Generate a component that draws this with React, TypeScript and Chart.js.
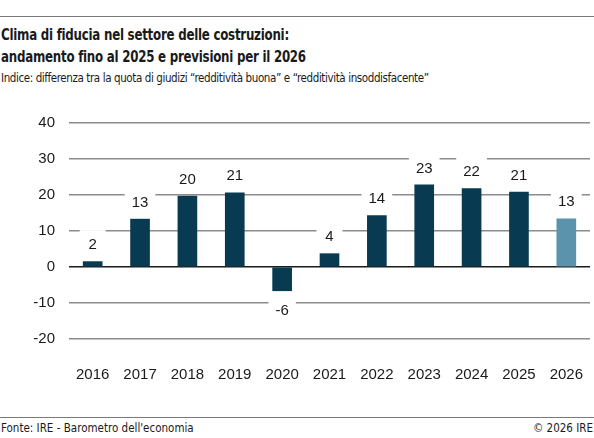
import React, { useEffect, useRef } from 'react';
import { Chart, registerables } from 'chart.js';

Chart.register(...registerables);

const anni = ['2016', '2017', '2018', '2019', '2020', '2021', '2022', '2023', '2024', '2025', '2026'];
const valori = [1.5, 13.3, 19.7, 20.6, -6.6, 3.7, 14.3, 22.8, 21.8, 20.8, 13.4];
const etichette = ['2', '13', '20', '21', '-6', '4', '14', '23', '22', '21', '13'];
const annoPrevisione = '2026';
const yMin = -20;
const yMax = 40;
const yStep = 10;

const BLU = '#083a52';
const AZZURRO = '#5b92ac';
const NARROW = '"Liberation Sans Narrow", "DejaVu Sans Condensed", "Roboto", sans-serif';
const SANS = '"Liberation Sans", Arial, sans-serif';

// etichette valore sopra/sotto le barre, con riquadro bianco che interrompe la griglia
const etichettePlugin = {
  id: 'etichetteValori',
  afterDatasetsDraw(chart: any) {
    const ctx = chart.ctx;
    const meta = chart.getDatasetMeta(0);
    ctx.save();
    ctx.font = `15px ${SANS}`;
    ctx.textAlign = 'center';
    ctx.textBaseline = 'middle';
    meta.data.forEach((bar: any, i: number) => {
      const testo = etichette[i];
      const v = valori[i];
      const y = v >= 0 ? bar.y - 17.5 : bar.y + 19;
      const w = Math.max(ctx.measureText(testo).width + 14, 26);
      ctx.fillStyle = '#fff';
      ctx.fillRect(bar.x - w / 2, y - 14, w, 28);
      ctx.fillStyle = '#1a1a1a';
      ctx.fillText(testo, bar.x, y + 1);
    });
    ctx.restore();
  },
};

const GraficoFiducia: React.FC = () => {
  const chartRef = useRef<HTMLCanvasElement>(null);

  useEffect(() => {
    if (!chartRef.current) return;
    const chart = new Chart(chartRef.current, {
      type: 'bar',
      data: {
        labels: anni,
        datasets: [
          {
            data: valori,
            backgroundColor: anni.map((a) => (a === annoPrevisione ? AZZURRO : BLU)),
            barThickness: 19,
          },
        ],
      },
      options: {
        animation: false,
        responsive: false,
        layout: { padding: { top: 23, right: 4, left: 0, bottom: 0 } },
        plugins: { legend: { display: false }, tooltip: { enabled: false } },
        scales: {
          x: {
            grid: { display: false, drawTicks: true, tickLength: 24 },
            border: { display: false },
            ticks: { color: '#1a1a1a', font: { size: 15, family: SANS }, padding: 3, maxRotation: 0 },
            afterFit: (axis: any) => {
              axis.height = 61;
            },
          },
          y: {
            min: yMin,
            max: yMax,
            border: { display: false },
            grid: {
              drawTicks: false,
              color: (c: any) => (c.tick && c.tick.value === 0 ? '#1a1a1a' : '#8c8c8c'),
              lineWidth: 1.5,
            },
            ticks: { stepSize: yStep, color: '#1a1a1a', font: { size: 15, family: SANS }, padding: 14 },
            afterFit: (axis: any) => {
              axis.width = 69;
            },
          },
        },
      },
      plugins: [etichettePlugin],
    });
    return () => {
      chart.destroy();
    };
  }, []);

  return <canvas ref={chartRef} width={594} height={300} style={{ position: 'absolute', left: 0, top: 100 }} />;
};

export default function App() {
  useEffect(() => {
    document.body.style.margin = '0';
  }, []);

  return (
    <div style={{ position: 'relative', width: 594, height: 438, background: '#fff', color: '#1a1a1a', fontFamily: NARROW, overflow: 'hidden' }}>
      <div style={{ position: 'absolute', left: 0, right: 0, top: 16, borderTop: '1.5px solid #7a7a7a' }} />
      <div
        style={{
          position: 'absolute',
          left: 1,
          top: 24,
          fontSize: 15.5,
          letterSpacing: '-0.3px',
          fontWeight: 'bold',
          lineHeight: '22px',
          whiteSpace: 'nowrap',
          transform: 'scaleX(0.85)',
          transformOrigin: 'left top',
        }}
      >
        Clima di fiducia nel settore delle costruzioni:
        <br />
        andamento fino al 2025 e previsioni per il 2026
      </div>
      <div style={{ position: 'absolute', left: 1, top: 70, fontSize: 11.5, letterSpacing: '-0.4px', lineHeight: '16px', whiteSpace: 'nowrap' }}>
        Indice: differenza tra la quota di giudizi “redditività buona” e “redditività insoddisfacente”
      </div>
      <GraficoFiducia />
      <div style={{ position: 'absolute', left: 0, right: 0, top: 417, borderTop: '1.5px solid #7a7a7a' }} />
      <div style={{ position: 'absolute', left: 1, top: 420, fontSize: 11.5, lineHeight: '16px' }}>
        Fonte: IRE - Barometro dell'economia
      </div>
      <div style={{ position: 'absolute', right: 1, top: 420, fontSize: 11.5, lineHeight: '16px' }}>© 2026 IRE</div>
    </div>
  );
}
